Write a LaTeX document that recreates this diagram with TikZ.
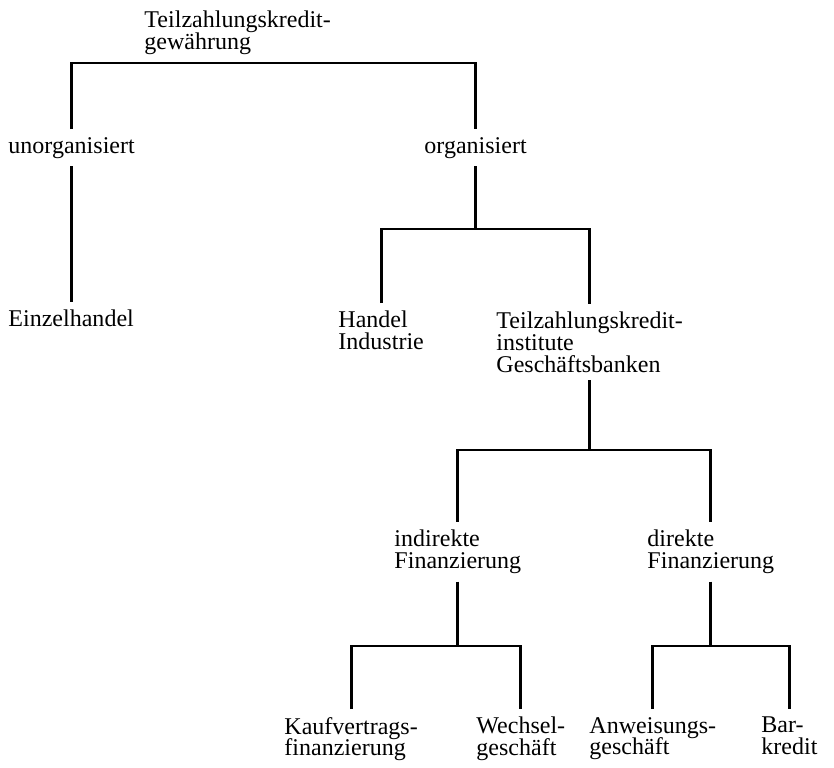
\documentclass[tikz,border=0pt]{standalone}
\usepackage{fontspec}
\setmainfont{Liberation Serif}
\newcommand{\lblfont}{\fontsize{20.5}{18.7}\selectfont\setlength{\lineskiplimit}{-20pt}}

\begin{document}
\begin{tikzpicture}[x=0.3mm,y=-0.3mm,line width=2.5pt,
	lbl/.style={anchor=north west,align=left,inner xsep=0pt,inner ysep=2mm,font=\lblfont}]
		
		\useasboundingbox (0,0) rectangle (834,767);
		
		\node[lbl] (root) at (143,3) {Teilzahlungskredit-\\gewährung};
		\node[lbl] (unorg) at (7,129) {unorganisiert};
		\node[lbl] (org) at (423,129) {organisiert};
		\node[lbl] (einz) at (7,301.5) {Einzelhandel};
		\node[lbl] (handel) at (337,303) {Handel\\Industrie};
		\node[lbl] (teilz) at (495,303.5) {Teilzahlungskredit-\\institute\\Geschäftsbanken};
		\node[lbl] (indir) at (393,521.5) {indirekte\\Finanzierung};
		\node[lbl] (dir) at (646,521.5) {direkte\\Finanzierung};
		\node[lbl] (kauf) at (283,709) {Kaufvertrags-\\finanzierung};
		\node[lbl] (wech) at (475,709) {Wechsel-\\geschäft};
		\node[lbl] (anw) at (588,709) {Anweisungs-\\geschäft};
		\node[lbl] (barkr) at (760,709) {Bar-\\kredit};
		
		% Verzweigungen
		\draw (unorg.north) |- (root.south) -| (org.north);
		\draw (unorg.south) -- (unorg.south |- einz.north);
		
		\draw (org.south) -- (org.south |- 0,229) coordinate (j2);
		\draw (handel.north) |- (j2) -| (teilz.north);
		
		\draw (teilz.south) -- (teilz.south |- 0,450) coordinate (j3);
		\draw (indir.north) |- (j3) -| (dir.north);
		
		\draw (indir.south) -- (indir.south |- 0,646) coordinate (j4);
		\draw (kauf.north) |- (j4) -| (wech.north);
		\draw (dir.south) -- (dir.south |- 0,646) coordinate (j5);
		\draw (anw.north) |- (j5) -| (barkr.north);
		
\end{tikzpicture}
\end{document}
